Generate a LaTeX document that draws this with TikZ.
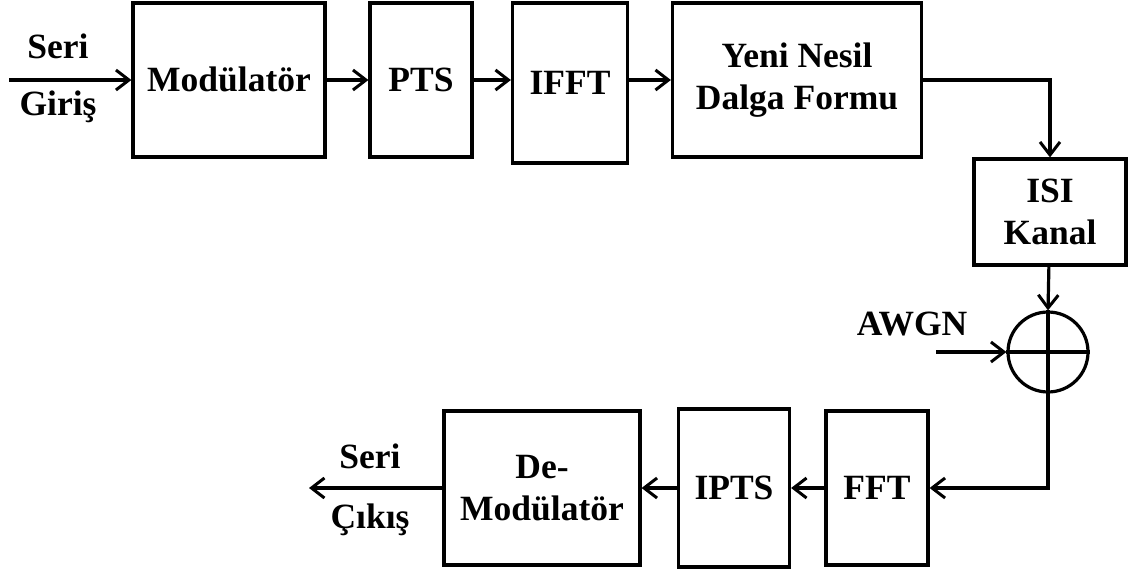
\documentclass[tikz,border=0pt]{standalone}
\usepackage{fontspec}
\setmainfont{Liberation Serif}
\usetikzlibrary{arrows.meta}
\begin{document}
\begin{tikzpicture}[
    x=1pt,y=-1pt,
    line width=3.2pt,
    font=\fontsize{35.5}{40}\selectfont\bfseries,
    blok/.style={draw, rectangle, align=center, inner sep=0pt},
    tek/.style={blok, text height=23pt, text depth=0pt},
    etiket/.style={anchor=base},
    ok/.style={-{Straight Barb[length=13pt,width=20pt,line width=3pt]}}
    ]
    \useasboundingbox (0,0) rectangle (1129,573);
	\node [tek, minimum width=192, minimum height=154] (mod) at (229,80) {Modülatör};
	\node [tek, minimum width=102, minimum height=154] (pts) at (421,80) {PTS};
	\node [tek, minimum width=115, minimum height=160] (ifft) at (570,83) {IFFT};
	\node [blok, minimum width=249, minimum height=154] (yeni) at (797,80) {Yeni Nesil\\[2pt] Dalga Formu};
	\node [blok, minimum width=152, minimum height=106] (isi) at (1050,212) {ISI\\[2pt] Kanal};
	\node [draw, circle, minimum size=80, inner sep=0pt] (top) at (1048,352) {};
	\node [tek, minimum width=102, minimum height=154] (fft) at (877,488) {FFT};
	\node [tek, minimum width=111, minimum height=158] (ipts) at (734,488) {IPTS};
	\node [blok, minimum width=196, minimum height=154] (demod) at (542,488) {De-\\[2pt] Modülatör};
	% etiketler
	\node [etiket] (giris1) at (58,58) {Seri};
	\node [etiket] (giris2) at (58,115) {Giriş};
	\node [etiket] (awgn) at (912,335) {AWGN};
	\node [etiket] (cikis1) at (370,468) {Seri};
	\node [etiket] (cikis2) at (370,528) {Çıkış};
	\coordinate (gir) at (9,80);
	\coordinate (gurultu) at (936,352);
	\coordinate (cik) at (309,488);
	% toplayici
	\draw (top.north) -- (top.south) (top.west) -- (top.east);
	% baglantilar
	\draw [ok] (gir) -- (mod);
	\draw [ok] (mod) -- (pts);
	\draw [ok] (pts.east) -- (pts.east -| ifft.west);
	\draw [ok] (yeni.west -| ifft.east) -- (yeni);
	\draw [ok] (yeni.east) -| (isi.north);
	\draw [ok] (isi) -- (top.north);
	\draw [ok] (gurultu) -- (top.west);
	\draw [ok] (top.south) |- (fft.east);
	\draw [ok] (fft) -- (ipts);
	\draw [ok] (ipts) -- (demod);
	\draw [ok] (demod) -- (cik);
\end{tikzpicture}
\end{document}
